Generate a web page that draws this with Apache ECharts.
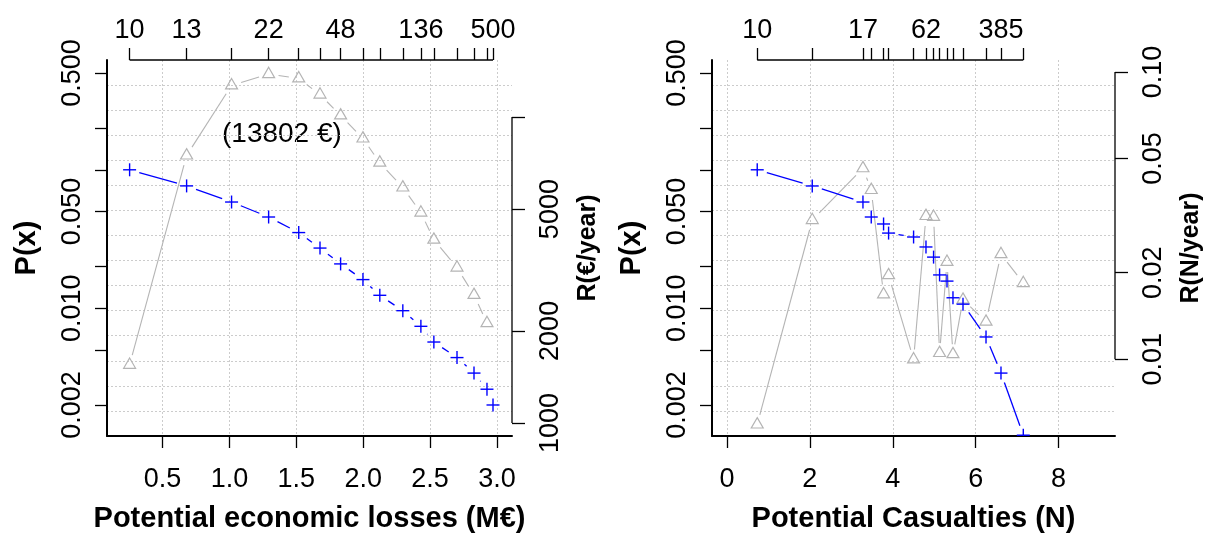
<!DOCTYPE html>
<html>
<head>
<meta charset="utf-8">
<script src="https://cdn.jsdelivr.net/npm/echarts@6/dist/echarts.min.js"></script>
<style>
  html, body { margin: 0; padding: 0; background: #ffffff; }
  #chart { width: 1212px; height: 540px; }
</style>
</head>
<body>
<div id="chart"></div>
<script>
// ---- Panel 1: potential economic losses ----
const lossX = [0.254, 0.680, 1.016, 1.293, 1.518, 1.677, 1.831, 1.998, 2.124, 2.296, 2.431, 2.528, 2.701, 2.828, 2.925, 2.970];
const lossP = [0.100, 0.0765, 0.0585, 0.0456, 0.0352, 0.0272, 0.0209, 0.0161, 0.0124, 0.0096, 0.0074, 0.0057, 0.0044, 0.0034, 0.0026, 0.0020];
const lossRisk = [1549, 7480, 12680, 13802, 13360, 11830, 10110, 8500, 7090, 5880, 4870, 3970, 3220, 2620, 2120];
const lossTopLabels = ['10', '13', '', '22', '', '', '48', '', '', '', '136', '', '', '', '', '500'];
const lossBottomTicks = [0.5, 1.0, 1.5, 2.0, 2.5, 3.0];
const lossRiskTicks = [1000, 2000, 5000, 10000];
const lossRiskLabels = [1000, 2000, 5000];

// ---- Panel 2: potential casualties ----
const casX = [0.731, 2.058, 3.281, 3.481, 3.778, 3.899, 4.502, 4.801, 4.984, 5.129, 5.308, 5.452, 5.694, 6.249, 6.610, 7.148];
const casP = [0.100, 0.0764, 0.0585, 0.0456, 0.0406, 0.0349, 0.0327, 0.0277, 0.0234, 0.0174, 0.0157, 0.0119, 0.0107, 0.0062, 0.0034, 0.00121];
const casRisk = [0.00592, 0.0305, 0.0462, 0.0388, 0.0168, 0.0196, 0.00998, 0.0315, 0.0313, 0.0105, 0.0218, 0.0104, 0.0161, 0.0135, 0.0232, 0.0184];
const casTopLabels = ['10', '', '17', '', '', '', '', '62', '', '', '', '', '', '', '385', ''];
const casBottomTicks = [0, 2, 4, 6, 8];
const casRiskTicks = [0.01, 0.02, 0.05, 0.10];

// shared probability axis
const pTicks = [0.002, 0.005, 0.01, 0.02, 0.05, 0.1, 0.2, 0.5];
const pLabels = [0.002, 0.01, 0.05, 0.5];

const FONT = 'Liberation Sans, Arial, Helvetica, sans-serif';
const BLUE = '#0000ff';
const GREY = '#b4b4b4';
const GRIDC = '#cccccc';

const panels = [
  {
    left: 107, width: 405,
    xMin: 0.085, xMax: 3.112,
    pMin: 0.001194, pMax: 0.621,
    rMin: 907, rMax: 15350,
    x: lossX, p: lossP, risk: lossRisk, top: lossTopLabels,
    bottomTicks: lossBottomTicks, bottomFmt: v => v.toFixed(1),
    rTicks: lossRiskTicks, rLabels: lossRiskLabels, rFmt: v => String(Math.round(v)),
    xName: 'Potential economic losses (M€)', rName: 'R(€/year)'
  },
  {
    left: 712, width: 403,
    xMin: -0.36, xMax: 9.36,
    pMin: 0.001194, pMax: 0.621,
    rMin: 0.0054, rMax: 0.1101,
    x: casX, p: casP, risk: casRisk, top: casTopLabels,
    bottomTicks: casBottomTicks, bottomFmt: v => String(v),
    rTicks: casRiskTicks, rLabels: casRiskTicks, rFmt: v => v.toFixed(2),
    xName: 'Potential Casualties (N)', rName: 'R(N/year)'
  }
];

const tickText = { color: '#000', fontFamily: FONT, fontSize: 27 };
const titleText = { color: '#000', fontFamily: FONT, fontSize: 29, fontWeight: 'bold' };

const grid = [], xAxis = [], yAxis = [], series = [];

// points joined R "type b" style: segments stop short of each marker
function pointSeries(xs, ys, xi, yi, kind, color) {
  const data = ys.map((y, i) => [xs[i], y]);
  const GAP = 10;
  return {
    type: 'custom', xAxisIndex: xi, yAxisIndex: yi, clip: true, silent: true,
    data: data,
    renderItem: function (params, api) {
      const i = params.dataIndex;
      const p = api.coord(data[i]);
      const kids = [];
      if (i < data.length - 1) {
        const q = api.coord(data[i + 1]);
        const dx = q[0] - p[0], dy = q[1] - p[1];
        const d = Math.sqrt(dx * dx + dy * dy);
        if (d > 2 * GAP) {
          const ux = dx / d, uy = dy / d;
          kids.push({
            type: 'line',
            shape: { x1: p[0] + ux * GAP, y1: p[1] + uy * GAP, x2: q[0] - ux * GAP, y2: q[1] - uy * GAP },
            style: { stroke: color, lineWidth: kind === 'cross' ? 1.3 : 1.1 }
          });
        }
      }
      if (kind === 'cross') {
        const r = 6.5;
        kids.push({ type: 'line', shape: { x1: p[0] - r, y1: p[1], x2: p[0] + r, y2: p[1] }, style: { stroke: color, lineWidth: 1.4 } });
        kids.push({ type: 'line', shape: { x1: p[0], y1: p[1] - r, x2: p[0], y2: p[1] + r }, style: { stroke: color, lineWidth: 1.4 } });
      } else {
        const r = 6.9;
        kids.push({
          type: 'polygon',
          shape: { points: [[p[0], p[1] - r], [p[0] + r * 0.866, p[1] + r * 0.5], [p[0] - r * 0.866, p[1] + r * 0.5]] },
          style: { fill: 'none', stroke: color, lineWidth: 1.2 }
        });
      }
      return { type: 'group', children: kids };
    }
  };
}

panels.forEach((pn, g) => {
  grid.push({ left: pn.left, top: 60, width: pn.width, height: 376, containLabel: false, outerBoundsMode: 'none' });
  const xb = xAxis.length, yb = yAxis.length;

  // bottom axis
  xAxis.push({
    type: 'value', gridIndex: g, position: 'bottom', min: pn.xMin, max: pn.xMax,
    axisLine: { show: true, onZero: false, lineStyle: { color: '#000', width: 2 } },
    axisTick: { show: true, length: 12, customValues: pn.bottomTicks, lineStyle: { color: '#000', width: 1.3 } },
    axisLabel: { show: true, customValues: pn.bottomTicks, formatter: pn.bottomFmt, margin: 30, ...tickText },
    splitLine: { show: true, lineStyle: { color: GRIDC, width: 1, type: [2, 2] } },
    name: pn.xName, nameLocation: 'middle', nameGap: 68, nameTextStyle: titleText
  });
  // top axis: one tick per scenario, labelled with its return period
  const topLabelled = pn.x.filter((v, i) => pn.top[i] !== '');
  xAxis.push({
    type: 'value', gridIndex: g, position: 'top', min: pn.xMin, max: pn.xMax,
    axisLine: { show: false, onZero: false },
    axisTick: { show: true, length: 12, customValues: pn.x, lineStyle: { color: '#000', width: 1.3 } },
    axisLabel: {
      show: true, customValues: topLabelled, margin: 16, ...tickText,
      formatter: v => { const i = pn.x.findIndex(x => Math.abs(x - v) < 1e-9); return i >= 0 ? pn.top[i] : ''; }
    },
    splitLine: { show: false }
  });

  // left probability axis
  yAxis.push({
    type: 'log', logBase: 10, gridIndex: g, position: 'left', min: pn.pMin, max: pn.pMax,
    axisLine: { show: true, onZero: false, lineStyle: { color: '#000', width: 2 } },
    axisTick: { show: true, length: 12, customValues: pTicks, lineStyle: { color: '#000', width: 1.3 } },
    axisLabel: { show: true, customValues: pLabels, formatter: v => v.toFixed(3), rotate: 90, margin: 21, ...tickText },
    splitLine: { show: false },
    name: 'P(x)', nameLocation: 'middle', nameRotate: 90, nameGap: 66, nameTextStyle: titleText
  });
  // right risk axis
  yAxis.push({
    type: 'log', logBase: 10, gridIndex: g, position: 'right', min: pn.rMin, max: pn.rMax,
    axisLine: { show: false, onZero: false },
    axisTick: { show: true, length: 13, customValues: pn.rTicks, lineStyle: { color: '#000', width: 1.3 } },
    axisLabel: { show: true, customValues: pn.rLabels, formatter: pn.rFmt, rotate: 90, margin: 25, ...tickText },
    splitLine: { show: false },
    name: pn.rName, nameLocation: 'middle', nameRotate: 90, nameGap: 64, nameTextStyle: { ...titleText, fontSize: 25 }
  });
  // evenly spaced horizontal grid lines
  yAxis.push({
    type: 'value', gridIndex: g, position: 'left', min: 0, max: 15, interval: 1,
    axisLine: { show: false, onZero: false }, axisTick: { show: false }, axisLabel: { show: false },
    splitLine: { show: true, showMinLine: false, showMaxLine: false, lineStyle: { color: GRIDC, width: 1, type: [2, 2] } }
  });

  // top axis line, from first to last scenario
  series.push({
    type: 'line', xAxisIndex: xb + 1, yAxisIndex: yb, clip: false, silent: true, symbol: 'none',
    data: [[pn.x[0], pn.pMax], [pn.x[pn.x.length - 1], pn.pMax]],
    lineStyle: { color: '#000', width: 1.3 }
  });
  // right axis line, spanning its tick range
  series.push({
    type: 'line', xAxisIndex: xb, yAxisIndex: yb + 1, clip: false, silent: true, symbol: 'none',
    data: [[pn.xMax, pn.rTicks[0]], [pn.xMax, pn.rTicks[pn.rTicks.length - 1]]],
    lineStyle: { color: '#000', width: 1.3 }
  });

  series.push(pointSeries(pn.x, pn.risk, xb, yb + 1, 'triangle', GREY));
  series.push(pointSeries(pn.x, pn.p, xb, yb, 'cross', BLUE));
});

const chart = echarts.init(document.getElementById('chart'), null, { renderer: 'canvas' });
chart.setOption({
  animation: false,
  backgroundColor: '#ffffff',
  grid: grid, xAxis: xAxis, yAxis: yAxis, series: series,
  graphic: [{
    type: 'text', left: 222, top: 120, silent: true,
    style: { text: '(13802 €)', fill: '#000', font: '28px ' + FONT }
  }]
});
</script>
</body>
</html>
